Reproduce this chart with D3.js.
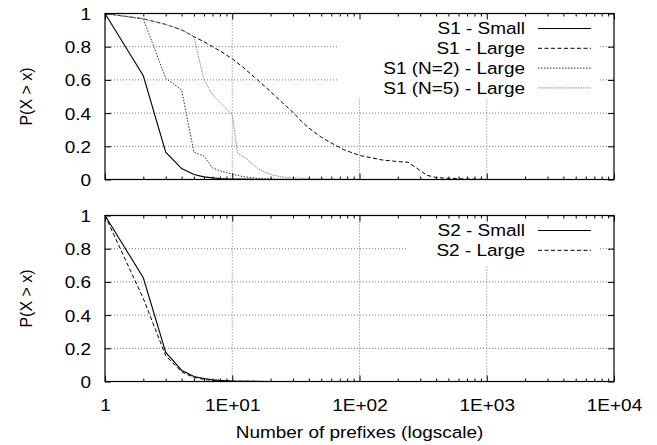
<!DOCTYPE html>
<html>
<head>
<meta charset="utf-8">
<script src="https://cdn.jsdelivr.net/npm/d3@7"></script>
<style>
  body { margin: 0; background: #fff; }
  svg { display: block; }
  text { font-family: "Liberation Sans", Arial, Helvetica, sans-serif; fill: #000; }
</style>
</head>
<body>
<div id="chart"></div>
<script>
// ---- data ----
const s1Small = [[1,1],[2,0.625],[3,0.165],[4,0.066],[5,0.03],[6,0.016],[7,0.01],[8,0.006],[9,0.004],[10,0.003],[12,0.002],[15,0.001],[20,0]];
const s1Large = [[1,1],[2,0.968],[3,0.934],[4,0.902],[5,0.86],[6,0.83],[7,0.8],[8,0.775],[10,0.727],[12,0.68],[15,0.615],[20,0.53],[25,0.46],[30,0.405],[35,0.35],[40,0.31],[50,0.255],[60,0.22],[75,0.18],[100,0.145],[150,0.118],[200,0.108],[240,0.104],[280,0.07],[340,0.025],[400,0.012],[500,0.007],[700,0.003],[1000,0.001]];
const s1N2Large = [[1,1],[2,0.968],[3,0.61],[4,0.54],[5,0.165],[6,0.14],[7,0.07],[8,0.052],[9,0.042],[10,0.033],[12,0.018],[15,0.009],[20,0.004],[30,0.001],[50,0]];
const s1N5Large = [[1,1],[2,0.968],[3,0.934],[4,0.902],[5,0.86],[6,0.6],[7,0.51],[8,0.465],[9,0.425],[10,0.39],[11,0.16],[12,0.14],[13,0.125],[14,0.1],[16,0.064],[18,0.045],[21,0.025],[25,0.015],[30,0.01],[40,0.005],[60,0.002],[100,0.001]];
const s2Small = [[1,1],[2,0.625],[3,0.175],[4,0.068],[5,0.03],[6,0.018],[7,0.011],[8,0.007],[9,0.004],[10,0.002],[15,0.001],[20,0]];
const s2Large = [[1,1],[2,0.5],[3,0.155],[4,0.058],[5,0.024],[6,0.013],[7,0.007],[8,0.004],[10,0.002],[15,0.001]];

const topNames = ["S1 - Small", "S1 - Large", "S1 (N=2) - Large", "S1 (N=5) - Large"];
const bottomNames = ["S2 - Small", "S2 - Large"];
const xTickValues = [1, 10, 100, 1000, 10000];
const xTickLabels = ["1", "1E+01", "1E+02", "1E+03", "1E+04"];
const yTickValues = [0, 0.2, 0.4, 0.6, 0.8, 1];
const yTickLabels = ["0", "0.2", "0.4", "0.6", "0.8", "1"];
const xTitle = "Number of prefixes (logscale)";
const yTitle = "P(X > x)";

// line styles (solid, dashed, fine dots, light dots)
const styles = [
  { stroke: "#000", dash: null, width: 1.1 },
  { stroke: "#000", dash: "4,2.5", width: 1 },
  { stroke: "#333", dash: "1.5,1.5", width: 1 },
  { stroke: "#8a8a8a", dash: "1.5,1", width: 1 }
];

const W = 657, H = 445;
const left = 105, right = 614;
const fs = "16.5px";
const sx = 1.15; // the reference text is stretched horizontally

const svg = d3.select("#chart").append("svg")
  .attr("width", W).attr("height", H);

const x = d3.scaleLog().domain([1, 10000]).range([left, right]);
const minorTicks = [];
for (let k = 0; k < 4; k++) for (let m = 2; m < 10; m++) minorTicks.push(m * Math.pow(10, k));

function panel(cfg) {
  const y = d3.scaleLinear().domain([0, 1]).range([cfg.bottom, cfg.top]);
  const g = svg.append("g");

  // grid
  g.selectAll(".hgrid").data([0.2, 0.4, 0.6, 0.8]).enter().append("line")
    .attr("x1", left).attr("x2", right)
    .attr("y1", d => y(d)).attr("y2", d => y(d))
    .attr("stroke", "#555").attr("stroke-width", 0.8).attr("stroke-dasharray", "1,2");
  g.selectAll(".vgrid").data([10, 100, 1000]).enter().append("line")
    .attr("x1", d => x(d)).attr("x2", d => x(d))
    .attr("y1", cfg.top).attr("y2", cfg.bottom)
    .attr("stroke", "#555").attr("stroke-width", 0.8).attr("stroke-dasharray", "1,2");

  // key box blanks the grid behind the legend
  g.append("rect")
    .attr("x", cfg.keyLeft).attr("y", cfg.top + 1)
    .attr("width", 600 - cfg.keyLeft).attr("height", cfg.keyBottom - cfg.top - 1)
    .attr("fill", "#fff");

  // curves
  const line = d3.line().x(d => x(d[0])).y(d => y(d[1]));
  cfg.series.forEach((s, i) => {
    const st = styles[cfg.styleIdx[i]];
    g.append("path").datum(s)
      .attr("d", line)
      .attr("fill", "none")
      .attr("stroke", st.stroke)
      .attr("stroke-width", st.width)
      .attr("stroke-dasharray", st.dash);
  });

  // ticks (inside, on all four sides)
  const tickStyle = sel => sel.call(s => s.select(".domain").remove())
    .selectAll("line").attr("stroke", "#000");
  g.append("g").attr("transform", `translate(0,${cfg.bottom})`)
    .call(d3.axisBottom(x).tickValues(xTickValues).tickSize(-6).tickFormat(""))
    .call(tickStyle);
  g.append("g").attr("transform", `translate(0,${cfg.bottom})`)
    .call(d3.axisBottom(x).tickValues(minorTicks).tickSize(-3).tickFormat(""))
    .call(tickStyle);
  g.append("g").attr("transform", `translate(0,${cfg.top})`)
    .call(d3.axisTop(x).tickValues(xTickValues).tickSize(-6).tickFormat(""))
    .call(tickStyle);
  g.append("g").attr("transform", `translate(0,${cfg.top})`)
    .call(d3.axisTop(x).tickValues(minorTicks).tickSize(-3).tickFormat(""))
    .call(tickStyle);
  g.append("g").attr("transform", `translate(${right},0)`)
    .call(d3.axisRight(y).tickValues(yTickValues).tickSize(-6).tickFormat(""))
    .call(tickStyle);

  const yAx = g.append("g").attr("transform", `translate(${left},0)`)
    .call(d3.axisLeft(y).tickValues(yTickValues).tickSize(-6)
      .tickFormat((d, i) => yTickLabels[i]));
  yAx.select(".domain").remove();
  yAx.selectAll("line").attr("stroke", "#000");
  yAx.selectAll("text")
    .attr("x", -14).attr("dy", "0.36em")
    .attr("transform", `translate(-14,0) scale(${sx},1) translate(14,0)`)
    .style("font-size", fs);

  if (cfg.xLabels) {
    const xAx = g.append("g").attr("transform", `translate(0,${cfg.bottom})`)
      .call(d3.axisBottom(x).tickValues(xTickValues).tickSize(0)
        .tickFormat((d, i) => xTickLabels[i]));
    xAx.select(".domain").remove();
    xAx.selectAll("text")
      .attr("y", 30).attr("dy", null)
      .attr("transform", `scale(${sx},1)`)
      .style("font-size", fs);
  }

  // frame
  g.append("rect")
    .attr("x", left).attr("y", cfg.top)
    .attr("width", right - left).attr("height", cfg.bottom - cfg.top)
    .attr("fill", "none").attr("stroke", "#000").attr("stroke-width", 1.2);

  // y title
  g.append("text")
    .attr("transform", `translate(32,${(cfg.top + cfg.bottom) / 2}) rotate(-90)`)
    .attr("text-anchor", "middle")
    .style("font-size", "16px")
    .text(yTitle);

  // legend
  cfg.names.forEach((name, i) => {
    const ry = cfg.top + 15 + i * 19.8;
    const st = styles[cfg.styleIdx[i]];
    g.append("text")
      .attr("transform", `translate(525,${ry + 5.9}) scale(${sx},1)`)
      .attr("text-anchor", "end")
      .style("font-size", fs)
      .text(name);
    g.append("line")
      .attr("x1", 538).attr("x2", 591).attr("y1", ry).attr("y2", ry)
      .attr("stroke", st.stroke)
      .attr("stroke-width", st.width)
      .attr("stroke-dasharray", st.dash);
  });
}

panel({
  top: 13.5, bottom: 179.5, keyLeft: 337, keyBottom: 98,
  series: [s1Small, s1Large, s1N2Large, s1N5Large], styleIdx: [0, 1, 2, 3],
  names: topNames, xLabels: false
});
panel({
  top: 215.5, bottom: 381.5, keyLeft: 408, keyBottom: 265,
  series: [s2Small, s2Large], styleIdx: [0, 1],
  names: bottomNames, xLabels: true
});

svg.append("text")
  .attr("transform", `translate(${(left + right) / 2},438) scale(${sx},1)`)
  .attr("text-anchor", "middle")
  .style("font-size", fs)
  .text(xTitle);
</script>
</body>
</html>
